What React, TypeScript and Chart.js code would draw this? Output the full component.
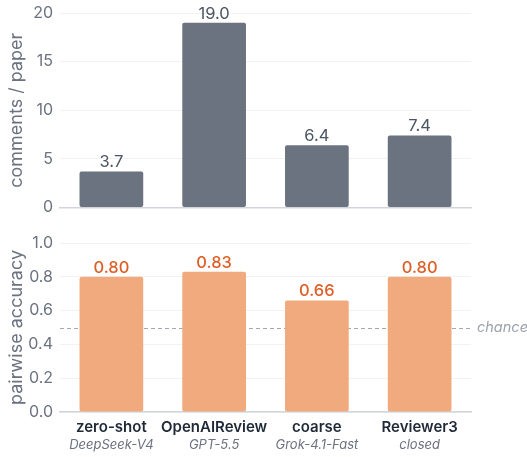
import React, { useEffect, useRef } from "react";
import { Chart, registerables } from "chart.js";

Chart.register(...registerables);

const methods = ["zero-shot", "OpenAIReview", "coarse", "Reviewer3"];
const models = ["DeepSeek-V4", "GPT-5.5", "Grok-4.1-Fast", "closed"];
const commentsPerPaper = [3.7, 19.0, 6.4, 7.4];
const pairwiseAccuracy = [0.8, 0.83, 0.66, 0.8];
const chanceLevel = 0.5;
const commentTicks = [0, 5, 10, 15, 20];
const accuracyTicks = [0, 0.2, 0.4, 0.6, 0.8, 1.0];

const FONT = "Inter, 'Noto Sans', sans-serif";
const W = 527;
const TOP_H = 217;
const BOT_TOP = 215;
const BOT_H = 242;
const LEFT_W = 60;
const RIGHT_PAD = 56;

const valueLabelPlugin = (color: string, digits: number, weight: string) => ({
  id: "valueLabels",
  afterDatasetsDraw(chart: any) {
    const ctx = chart.ctx;
    const meta = chart.getDatasetMeta(0);
    const data = chart.data.datasets[0].data as number[];
    ctx.save();
    ctx.font = `${weight} 16.5px ${FONT}`;
    ctx.fillStyle = color;
    ctx.textAlign = "center";
    ctx.textBaseline = "alphabetic";
    meta.data.forEach((bar: any, i: number) => {
      ctx.fillText(data[i].toFixed(digits), bar.x, bar.y - 4);
    });
    ctx.restore();
  },
});

const chancePlugin = {
  id: "chanceLine",
  beforeDatasetsDraw(chart: any) {
    const { ctx, chartArea } = chart;
    const y = chart.scales.y.getPixelForValue(chanceLevel);
    ctx.save();
    ctx.strokeStyle = "#a3a8b3";
    ctx.lineWidth = 1;
    ctx.setLineDash([4, 3]);
    ctx.beginPath();
    ctx.moveTo(chartArea.left, Math.round(y) + 0.5);
    ctx.lineTo(chartArea.right, Math.round(y) + 0.5);
    ctx.stroke();
    ctx.restore();
  },
  afterDraw(chart: any) {
    const { ctx, chartArea } = chart;
    const y = chart.scales.y.getPixelForValue(chanceLevel);
    ctx.save();
    ctx.font = `italic 14.5px ${FONT}`;
    ctx.fillStyle = "#9ca3af";
    ctx.textAlign = "left";
    ctx.textBaseline = "middle";
    ctx.fillText("chance", chartArea.right + 6, y);
    ctx.restore();
  },
};

const categoryLabelPlugin = {
  id: "categoryLabels",
  afterDraw(chart: any) {
    const { ctx, chartArea } = chart;
    const xs = chart.scales.x;
    ctx.save();
    ctx.textAlign = "center";
    ctx.textBaseline = "middle";
    methods.forEach((m, i) => {
      const x = xs.getPixelForValue(i);
      ctx.font = `600 15px ${FONT}`;
      ctx.fillStyle = "#1f2937";
      ctx.fillText(m, x, chartArea.bottom + 15);
      ctx.font = `italic 13px ${FONT}`;
      ctx.fillStyle = "#6b7280";
      ctx.fillText(models[i], x, chartArea.bottom + 33);
    });
    ctx.restore();
  },
};

function yAxis(title: string, min: number, max: number, step: number, digits: number, tickVals: number[]) {
  return {
    min,
    max,
    afterFit(scale: any) {
      scale.width = LEFT_W;
    },
    afterBuildTicks(scale: any) {
      scale.ticks = tickVals.map((v) => ({ value: v }));
    },
    ticks: {
      stepSize: step,
      padding: 0,
      color: "#6b7280",
      font: { family: FONT, size: 16 },
      callback: (v: any) => Number(v).toFixed(digits),
    },
    grid: { color: "#f1f2f4", drawTicks: true, tickLength: 7, tickColor: "rgba(0,0,0,0)", lineWidth: 1 },
    border: { display: false },
    title: {
      display: true,
      text: title,
      color: "#6b7280",
      font: { family: FONT, size: 18 },
      padding: { top: 6, bottom: 0 },
    },
  };
}

function xAxis(height: number) {
  return {
    type: "category" as const,
    afterFit(scale: any) {
      scale.height = height;
    },
    ticks: { display: false },
    grid: { display: false },
    border: { display: true, color: "#d1d5db", width: 1.5 },
  };
}

export default function App() {
  const topRef = useRef<HTMLCanvasElement>(null);
  const botRef = useRef<HTMLCanvasElement>(null);

  useEffect(() => {
    const top = new Chart(topRef.current!, {
      type: "bar",
      data: {
        labels: methods,
        datasets: [
          {
            data: commentsPerPaper,
            backgroundColor: "#6b7280",
            borderWidth: 0,
            borderRadius: 2,
            borderSkipped: false,
            categoryPercentage: 1,
            barPercentage: 0.62,
          },
        ],
      },
      options: {
        animation: false,
        responsive: false,
        layout: { padding: { top: 13, right: RIGHT_PAD, left: 0, bottom: 0 } },
        plugins: { legend: { display: false }, tooltip: { enabled: false } },
        scales: {
          x: xAxis(7),
          y: yAxis("comments / paper", 0, 20, 5, 0, commentTicks),
        },
      },
      plugins: [valueLabelPlugin("#4b5563", 1, "400")],
    });

    const bot = new Chart(botRef.current!, {
      type: "bar",
      data: {
        labels: methods,
        datasets: [
          {
            data: pairwiseAccuracy,
            backgroundColor: "#f0aa7e",
            borderWidth: 0,
            borderRadius: 2,
            borderSkipped: false,
            categoryPercentage: 1,
            barPercentage: 0.62,
          },
        ],
      },
      options: {
        animation: false,
        responsive: false,
        layout: { padding: { top: 28, right: RIGHT_PAD, left: 0, bottom: 0 } },
        plugins: { legend: { display: false }, tooltip: { enabled: false } },
        scales: {
          x: xAxis(45),
          y: yAxis("pairwise accuracy", 0, 1, 0.2, 1, accuracyTicks),
        },
      },
      plugins: [chancePlugin, valueLabelPlugin("#dd5f26", 2, "500"), categoryLabelPlugin],
    });

    return () => {
      top.destroy();
      bot.destroy();
    };
  }, []);

  return (
    <div style={{ position: "absolute", left: 0, top: 0, width: W, height: 457, background: "#fff" }}>
      <canvas
        ref={topRef}
        width={W}
        height={TOP_H}
        style={{ position: "absolute", left: 0, top: 0, width: W, height: TOP_H }}
      />
      <canvas
        ref={botRef}
        width={W}
        height={BOT_H}
        style={{ position: "absolute", left: 0, top: BOT_TOP, width: W, height: BOT_H }}
      />
    </div>
  );
}
